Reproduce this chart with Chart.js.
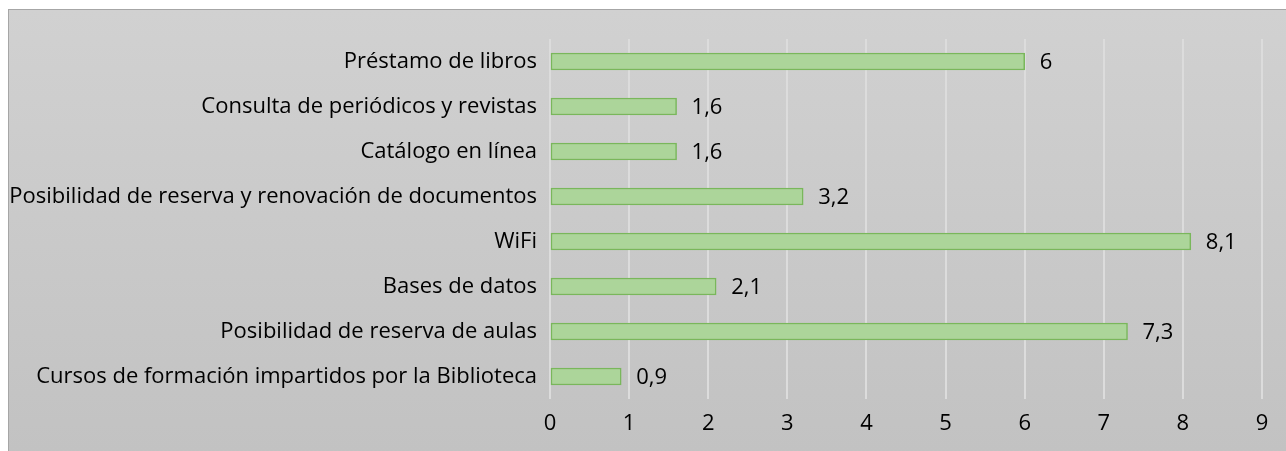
<!DOCTYPE html>
<html>
<head>
<meta charset="utf-8">
<script src="https://cdn.jsdelivr.net/npm/chart.js@4/dist/chart.umd.min.js"></script>
<style>
  html, body { margin: 0; padding: 0; background: #ffffff; }
  #box {
    position: absolute; left: 8px; top: 9px; width: 1278px; height: 442px;
    border-left: 1.5px solid #a6a6a6; border-top: 1.5px solid #a6a6a6;
    background: linear-gradient(to bottom, #d1d1d1, #c2c2c2);
  }
  #chart { position: absolute; left: 1px; top: 1px; }
</style>
</head>
<body>
<div id="box"><canvas id="chart" width="1277" height="441"></canvas></div>
<script>
var categories = [
    'Préstamo de libros',
    'Consulta de periódicos y revistas',
    'Catálogo en línea',
    'Posibilidad de reserva y renovación de documentos',
    'WiFi',
    'Bases de datos',
    'Posibilidad de reserva de aulas',
    'Cursos de formación impartidos por la Biblioteca'
];
var values = [6, 1.6, 1.6, 3.2, 8.1, 2.1, 7.3, 0.9];
var axisMin = 0;
var axisMax = 9;

var FONT = '"Open Sans", sans-serif';
var FONT_SIZE = 22;

function fmt(v) {
    return String(v).replace('.', ',');
}

// draws the value to the right of each bar
var valueLabels = {
    id: 'valueLabels',
    afterDatasetsDraw: function(chart) {
        var ctx = chart.ctx;
        var meta = chart.getDatasetMeta(0);
        ctx.save();
        ctx.font = FONT_SIZE + 'px ' + FONT;
        ctx.fillStyle = '#000000';
        ctx.textBaseline = 'middle';
        ctx.textAlign = 'left';
        meta.data.forEach(function(bar, i) {
            ctx.fillText(fmt(values[i]), bar.x + 15, bar.y + 1);
        });
        ctx.restore();
    }
};

var ctx = document.getElementById('chart').getContext('2d');
var myChart = new Chart(ctx, {
    type: 'bar',
    data: {
        labels: categories,
        datasets: [{
            data: values,
            backgroundColor: function(context) {
                var bar = context.element;
                if (!bar || bar.y === undefined) return '#acd59a';
                var g = context.chart.ctx.createLinearGradient(0, bar.y - 9, 0, bar.y + 9);
                g.addColorStop(0, '#b9dfab');
                g.addColorStop(1, '#a2cf8c');
                return g;
            },
            borderColor: '#79b75b',
            borderWidth: 1.5,
            borderSkipped: false,
            barThickness: 17
        }]
    },
    plugins: [valueLabels],
    options: {
        indexAxis: 'y',
        responsive: false,
        animation: false,
        layout: { padding: { top: 28, right: 25, left: 0, bottom: 0 } },
        plugins: {
            legend: { display: false },
            tooltip: { enabled: false }
        },
        scales: {
            x: {
                min: axisMin,
                max: axisMax,
                ticks: {
                    stepSize: 1,
                    color: '#000000',
                    font: { family: FONT, size: FONT_SIZE },
                    padding: 12,
                    callback: function(v) { return fmt(v); }
                },
                grid: { color: '#dcdcdc', lineWidth: 2, drawTicks: false },
                border: { display: false },
                afterFit: function(scale) { scale.height = 53; }
            },
            y: {
                ticks: {
                    color: '#000000',
                    font: { family: FONT, size: FONT_SIZE },
                    padding: 13
                },
                grid: { display: false, drawTicks: false },
                border: { display: false },
                afterFit: function(scale) { scale.width = 540; }
            }
        }
    }
});
</script>
</body>
</html>
